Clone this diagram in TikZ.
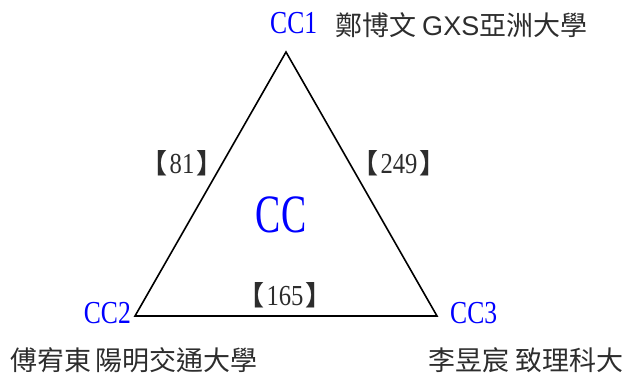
\documentclass[tikz,border=0pt]{standalone}
\usepackage{fontspec}
\newfontfamily\cjk{Noto Sans CJK TC}
\newfontfamily\cjkbold{Noto Sans CJK TC Bold}
\newfontfamily\lsans{Liberation Sans}
\newfontfamily\lserif{Liberation Serif}
\definecolor{ccblue}{RGB}{0,0,255}
\definecolor{txt}{RGB}{45,45,45}
\tikzset{
  cclab/.style={inner sep=0pt, text=ccblue, font=\lserif\fontsize{32}{32}\selectfont},
  bigcc/.style={inner sep=0pt, text=ccblue, font=\lserif\fontsize{54}{54}\selectfont},
  personlab/.style={inner sep=0pt, text=txt, font=\cjk\fontsize{27}{27}\selectfont},
  weightlab/.style={inner sep=0pt, text=txt},
  triline/.style={line width=1.6pt, line join=miter}
}
\newcommand{\cond}[1]{\scalebox{0.8}[1]{#1}}
\newcommand{\wlab}[1]{{\cjkbold\fontsize{27}{27}\selectfont 【}\hspace{2pt}\scalebox{0.85}[1]{\lserif\fontsize{29}{29}\selectfont #1}\hspace{2pt}{\cjkbold\fontsize{27}{27}\selectfont 】}}
\begin{document}
\begin{tikzpicture}[x=1pt,y=-1pt]
\useasboundingbox (0,0) rectangle (625,381);
\coordinate (v1) at (286,52);
\coordinate (v2) at (135,316);
\coordinate (v3) at (437,316);
\draw[triline] (v1) -- (v2) -- (v3) -- cycle;
\node[cclab, anchor=base west] (cc1) at (270,33) {\cond{CC1}};
\node[cclab, anchor=base east] (cc2) at (131,323) {\cond{CC2}};
\node[cclab, anchor=base west] (cc3) at (450,323) {\cond{CC3}};
\node[bigcc, anchor=base] (cc) at (281,232) {\scalebox{0.7}[1]{CC}};
\node[personlab, anchor=base west] (n1) at (335,35) {鄭博文 {\lsans GXS}亞洲大學};
\node[personlab, anchor=base west] (n2) at (10,370) {傅宥東\hspace{-2pt} 陽明交通大學};
\node[personlab, anchor=base west] (n3) at (428,370) {李昱宸 致理科大};
\node[weightlab, anchor=base] (w12) at (182,173) {\wlab{81}};
\node[weightlab, anchor=base] (w13) at (399,173) {\wlab{249}};
\node[weightlab, anchor=base] (w23) at (285,305) {\wlab{165}};
\end{tikzpicture}
\end{document}
